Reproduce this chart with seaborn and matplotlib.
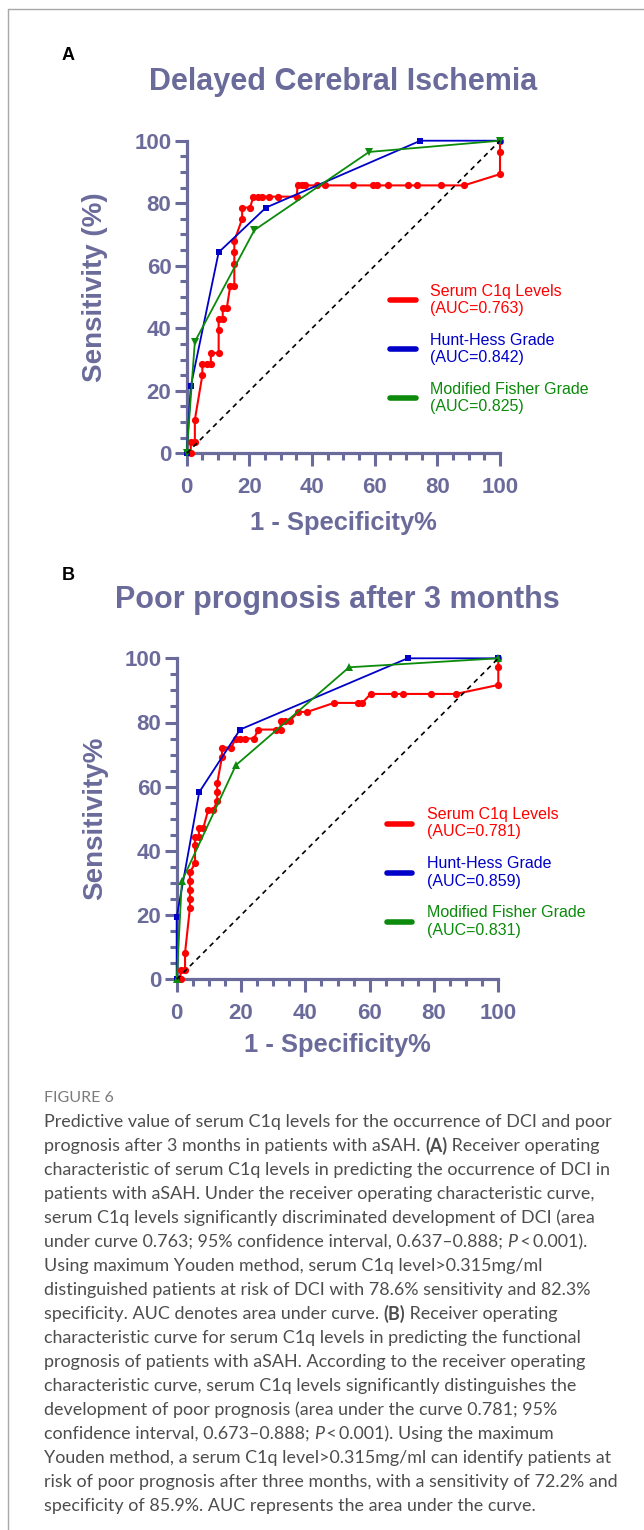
import matplotlib
matplotlib.use("Agg")
import matplotlib.pyplot as plt
from matplotlib.lines import Line2D
from matplotlib.ticker import MultipleLocator
import seaborn as sns
import pandas as pd

# ---------------- data ----------------
# Panel A: Delayed Cerebral Ischemia
a_c1q_x = [1.3, 1.3, 2.6, 2.6, 5.0, 5.0, 6.4, 7.7, 7.7, 10.2, 10.2, 10.2, 11.5, 11.5, 12.8,
           13.9, 15.2, 15.2, 15.2, 15.2, 17.7, 17.7, 20.2, 21.3, 22.6, 23.9, 26.4, 29.0, 35.1,
           35.4, 36.7, 37.8, 41.5, 44.1, 53.0, 59.4, 60.6, 64.3, 70.7, 73.4, 81.1, 88.5,
           100, 100, 100]
a_c1q_y = [0, 3.6, 3.6, 10.7, 25.0, 28.6, 28.6, 28.6, 32.1, 32.1, 39.3, 42.9, 42.9, 46.4, 46.4,
           53.6, 53.6, 60.7, 64.3, 67.9, 75.0, 78.6, 78.6, 82.1, 82.1, 82.1, 82.1, 82.1, 82.1,
           85.7, 85.7, 85.7, 85.7, 85.7, 85.7, 85.7, 85.7, 85.7, 85.7, 85.7, 85.7, 85.7,
           89.3, 96.4, 100]
a_hh_x = [0, 1.3, 10.2, 25.3, 74.6, 100]
a_hh_y = [0, 21.4, 64.3, 78.6, 100, 100]
a_mf_x = [0, 2.6, 21.6, 58.2, 100]
a_mf_y = [0, 35.7, 71.4, 96.4, 100]

# Panel B: Poor prognosis after 3 months
b_c1q_x = [1.2, 1.2, 2.6, 2.6, 4.1, 4.1, 4.1, 4.1, 4.1, 5.7, 5.7, 5.7, 6.9, 6.9, 8.3,
           9.8, 11.4, 12.6, 12.6, 12.6, 14.1, 14.1, 16.9, 18.4, 19.7, 21.3, 24.0, 25.4,
           30.9, 32.3, 32.3, 33.7, 35.2, 37.8, 40.6, 48.9, 56.5, 57.7, 60.3, 67.6, 70.5,
           79.0, 86.8, 100, 100, 100]
b_c1q_y = [0, 2.8, 2.8, 8.3, 22.2, 25.0, 27.8, 30.6, 33.3, 36.1, 41.7, 44.4, 44.4, 47.2, 47.2,
           52.8, 52.8, 55.6, 58.3, 61.1, 69.4, 72.2, 72.2, 75.0, 75.0, 75.0, 75.0, 77.8,
           77.8, 77.8, 80.6, 80.6, 80.6, 83.3, 83.3, 86.1, 86.1, 86.1, 88.9, 88.9, 88.9,
           88.9, 88.9, 91.7, 97.2, 100]
b_hh_x = [0, 0, 7.0, 19.7, 71.8, 100]
b_hh_y = [0, 19.4, 58.3, 77.8, 100, 100]
b_mf_x = [0, 1.6, 18.4, 53.6, 100]
b_mf_y = [0, 30.6, 66.7, 97.2, 100]

series_names = ["Serum C1q Levels", "Hunt-Hess Grade", "Modified Fisher Grade"]
a_auc = ["0.763", "0.842", "0.825"]
b_auc = ["0.781", "0.859", "0.831"]
titles = ["Delayed Cerebral Ischemia", "Poor prognosis after 3 months"]
panel_letters = ["A", "B"]
x_label = "1 - Specificity%"
y_labels = ["Sensitivity (%)", "Sensitivity%"]
tick_vals = [0, 20, 40, 60, 80, 100]
tick_labels = ["0", "20", "40", "60", "80", "100"]

caption_head = "FIGURE 6"
caption_lines = [
    [("Predictive value of serum C1q levels for the occurrence of DCI and poor", "n")],
    [("prognosis after 3 months in patients with aSAH. ", "n"), ("(A)", "b"), (" Receiver operating", "n")],
    [("characteristic of serum C1q levels in predicting the occurrence of DCI in", "n")],
    [("patients with aSAH. Under the receiver operating characteristic curve,", "n")],
    [("serum C1q levels significantly discriminated development of DCI (area", "n")],
    [("under curve 0.763; 95% confidence interval, 0.637\u20130.888; ", "n"), ("P", "i"), ("\u2009<\u20090.001).", "n")],
    [("Using maximum Youden method, serum C1q level>0.315mg/ml", "n")],
    [("distinguished patients at risk of DCI with 78.6% sensitivity and 82.3%", "n")],
    [("specificity. AUC denotes area under curve. ", "n"), ("(B)", "b"), (" Receiver operating", "n")],
    [("characteristic curve for serum C1q levels in predicting the functional", "n")],
    [("prognosis of patients with aSAH. According to the receiver operating", "n")],
    [("characteristic curve, serum C1q levels significantly distinguishes the", "n")],
    [("development of poor prognosis (area under the curve 0.781; 95%", "n")],
    [("confidence interval, 0.673\u20130.888; ", "n"), ("P", "i"), ("\u2009<\u20090.001). Using the maximum", "n")],
    [("Youden method, a serum C1q level>0.315mg/ml can identify patients at", "n")],
    [("risk of poor prognosis after three months, with a sensitivity of 72.2% and", "n")],
    [("specificity of 85.9%. AUC represents the area under the curve.", "n")],
]

# ---------------- style ----------------
sns.set_style("white")
plt.rcParams["font.family"] = ["Liberation Sans", "DejaVu Sans"]

W, H = 644, 1530
fig = plt.figure(figsize=(W / 100, H / 100), dpi=100)
fig.patch.set_facecolor("white")

AX_COL = "#6b6b9b"
RED, BLUE, GREEN = "#ff0000", "#0000c8", "#0b8a0b"


def px_rect(l, t, r, b):
    return [l / W, 1 - b / H, (r - l) / W, (b - t) / H]


panels = [
    dict(rect=px_rect(186.7, 140.7, 500, 453.3),
         c1q=(a_c1q_x, a_c1q_y), hh=(a_hh_x, a_hh_y), mf=(a_mf_x, a_mf_y), auc=a_auc,
         mf_marker="v", title_xy=(343, 82), letter_xy=(68, 55),
         xlab_y=-0.222, ylab_x=-0.293, ylab_y=0.53, leg=(0.649, 0.334)),
    dict(rect=px_rect(176.7, 658.3, 498.3, 979.3),
         c1q=(b_c1q_x, b_c1q_y), hh=(b_hh_x, b_hh_y), mf=(b_mf_x, b_mf_y), auc=b_auc,
         mf_marker="^", title_xy=(337.5, 600), letter_xy=(68, 576),
         xlab_y=-0.205, ylab_x=-0.254, ylab_y=0.5, leg=(0.653, 0.333)),
]

for i, p in enumerate(panels):
    ax = fig.add_axes(p["rect"])
    ax.set_facecolor("white")

    df_c = pd.DataFrame({"x": p["c1q"][0], "y": p["c1q"][1]})
    df_h = pd.DataFrame({"x": p["hh"][0], "y": p["hh"][1]})
    df_m = pd.DataFrame({"x": p["mf"][0], "y": p["mf"][1]})

    sns.lineplot(data=df_c, x="x", y="y", sort=False, estimator=None, ax=ax,
                 color=RED, linewidth=1.5, marker="o", markersize=5.2,
                 markeredgewidth=0, clip_on=False, zorder=3, legend=False)
    sns.lineplot(data=df_h, x="x", y="y", sort=False, estimator=None, ax=ax,
                 color=BLUE, linewidth=1.3, marker="s", markersize=4.6,
                 markeredgewidth=0, clip_on=False, zorder=4, legend=False)
    sns.lineplot(data=df_m, x="x", y="y", sort=False, estimator=None, ax=ax,
                 color=GREEN, linewidth=1.3, marker=p["mf_marker"], markersize=5.2,
                 markeredgewidth=0, clip_on=False, zorder=5, legend=False)
    sns.lineplot(x=[0, 100], y=[0, 100], ax=ax, color="black", linewidth=1.2,
                 dashes=False, clip_on=False, zorder=6, legend=False)
    ax.lines[-1].set_linestyle((0, (3, 2.6)))

    ax.set_xlim(0, 100)
    ax.set_ylim(0, 100)
    sns.despine(ax=ax)
    for s in ["left", "bottom"]:
        ax.spines[s].set_color(AX_COL)
        ax.spines[s].set_linewidth(2.3)
        ax.spines[s].set_zorder(2.5)
    ax.set_xticks(tick_vals)
    ax.set_xticklabels(tick_labels, fontweight="bold")
    ax.set_yticks(tick_vals)
    ax.set_yticklabels(tick_labels, fontweight="bold")
    ax.xaxis.set_minor_locator(MultipleLocator(5))
    ax.yaxis.set_minor_locator(MultipleLocator(5))
    ax.tick_params(which="major", direction="out", length=9, width=2.2, color=AX_COL,
                   labelcolor=AX_COL, labelsize=16, left=True, bottom=True)
    ax.tick_params(which="minor", direction="out", length=5, width=2.2, color=AX_COL,
                   left=True, bottom=True)
    ax.tick_params(axis="x", which="major", pad=8)
    ax.tick_params(axis="y", which="major", pad=2)

    ax.set_xlabel(x_label, fontsize=18.4, fontweight="bold", color=AX_COL)
    ax.set_ylabel(y_labels[i], fontsize=20, fontweight="bold", color=AX_COL)
    ax.xaxis.set_label_coords(0.5, p["xlab_y"])
    ax.xaxis.label.set_va("center")
    ax.yaxis.set_label_coords(p["ylab_x"], p["ylab_y"])
    ax.yaxis.label.set_va("center")

    handles = [Line2D([], [], color=c, linewidth=4) for c in (RED, BLUE, GREEN)]
    labels = [f"{n}\n(AUC={a})" for n, a in zip(series_names, p["auc"])]
    ax.legend(handles, labels, loc="center left", bbox_to_anchor=p["leg"],
              frameon=False, fontsize=11.5, handlelength=1.6, handletextpad=0.9,
              labelspacing=1.05, borderpad=0, borderaxespad=0,
              labelcolor=[RED, BLUE, GREEN])

    fig.text(p["title_xy"][0] / W, 1 - p["title_xy"][1] / H, titles[i],
             ha="center", va="center", fontsize=22, fontweight="bold", color=AX_COL)
    fig.text(p["letter_xy"][0] / W, 1 - p["letter_xy"][1] / H, panel_letters[i],
             ha="center", va="center", fontsize=13, fontweight="bold", color="black")

# ---------------- caption ----------------
CAP_FONT = ["Lato", "DejaVu Sans"]
renderer = fig.canvas.get_renderer()
fig.text(44 / W, 1 - 1098 / H, caption_head, ha="left", va="center", fontsize=11.5,
         color="#7a7a7a", family=CAP_FONT)
for k, segs in enumerate(caption_lines):
    y = 1 - (1122 + 24 * k) / H
    x_px = 44
    for txt, st in segs:
        kw = dict(fontsize=12.9, color="#4d4d4d", family=CAP_FONT, ha="left", va="center")
        if st == "b":
            kw["fontweight"] = "bold"
        if st == "i":
            kw["fontstyle"] = "italic"
        t = fig.text(x_px / W, y, txt, **kw)
        x_px += t.get_window_extent(renderer).width

# frame lines
fig.add_artist(Line2D([8 / W, 8 / W], [0, 1 - 9 / H], color="#a8a8a8", linewidth=1.0))
fig.add_artist(Line2D([8 / W, 1], [1 - 9 / H, 1 - 9 / H], color="#a8a8a8", linewidth=1.0))

fig.savefig("out.png", dpi=100, facecolor="white")
